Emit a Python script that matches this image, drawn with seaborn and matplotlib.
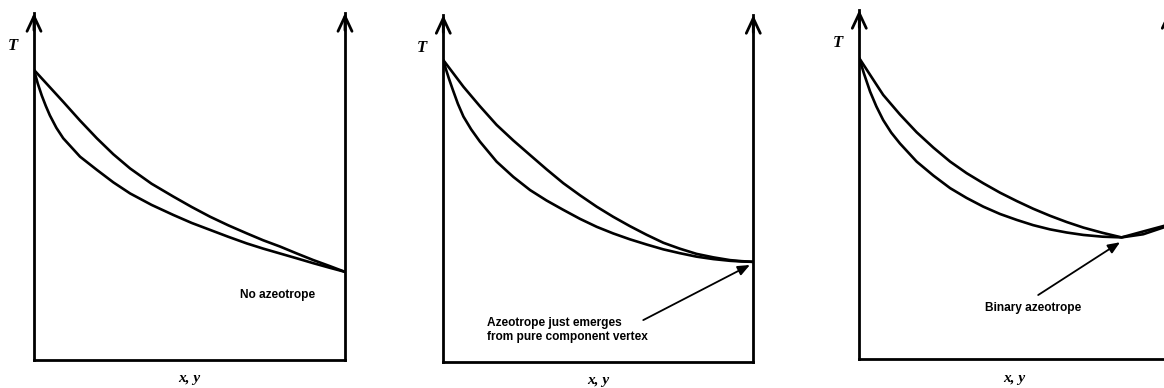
import matplotlib
matplotlib.use("Agg")
import matplotlib.pyplot as plt
import seaborn as sns
import pandas as pd

sns.set_theme(style="white")
plt.rcParams['font.family'] = ['Liberation Sans', 'DejaVu Sans']

# ---- data (x = composition, T = temperature, both scaled 0..1) ----
# Panel 1: no azeotrope
p1_dew_x = [0.0, 0.047, 0.094, 0.148, 0.202, 0.255, 0.309, 0.378, 0.448, 0.507, 0.566,
            0.625, 0.684, 0.737, 0.791, 0.845, 0.898, 0.950, 1.0]
p1_dew_T = [0.836, 0.790, 0.744, 0.690, 0.639, 0.593, 0.552, 0.508, 0.471, 0.441, 0.413,
            0.388, 0.365, 0.345, 0.327, 0.307, 0.288, 0.271, 0.254]
p1_bub_x = [0.0, 0.012, 0.025, 0.038, 0.051, 0.072, 0.094, 0.148, 0.202, 0.255, 0.309,
            0.378, 0.448, 0.507, 0.566, 0.625, 0.684, 0.737, 0.791, 0.845, 0.898, 0.950, 1.0]
p1_bub_T = [0.836, 0.797, 0.762, 0.732, 0.705, 0.669, 0.639, 0.586, 0.548, 0.512, 0.480,
            0.447, 0.418, 0.395, 0.375, 0.355, 0.336, 0.321, 0.307, 0.293, 0.279, 0.266, 0.254]

# Panel 2: azeotrope just emerges from pure component vertex
p2_dew_x = [0.0, 0.065, 0.118, 0.172, 0.226, 0.280, 0.333, 0.387, 0.441, 0.495, 0.548,
            0.602, 0.656, 0.710, 0.763, 0.817, 0.871, 0.925, 0.962, 1.0]
p2_dew_T = [0.870, 0.793, 0.737, 0.683, 0.638, 0.596, 0.555, 0.515, 0.480, 0.447, 0.418,
            0.391, 0.366, 0.343, 0.326, 0.311, 0.301, 0.293, 0.290, 0.288]
p2_bub_x = [0.0, 0.008, 0.018, 0.030, 0.047, 0.065, 0.090, 0.118, 0.172, 0.226, 0.280,
            0.333, 0.387, 0.441, 0.495, 0.548, 0.602, 0.656, 0.710, 0.763, 0.817, 0.871,
            0.925, 0.962, 1.0]
p2_bub_T = [0.870, 0.845, 0.817, 0.786, 0.744, 0.707, 0.670, 0.635, 0.577, 0.533, 0.495,
            0.465, 0.438, 0.412, 0.389, 0.370, 0.353, 0.338, 0.324, 0.313, 0.303, 0.296,
            0.291, 0.289, 0.288]

# Panel 3: binary azeotrope
p3_dew_x = [0.0, 0.038, 0.077, 0.131, 0.185, 0.239, 0.293, 0.346, 0.400, 0.454, 0.508,
            0.561, 0.615, 0.669, 0.723, 0.785, 0.846, 0.916, 0.983]
p3_dew_T = [0.862, 0.810, 0.757, 0.701, 0.650, 0.606, 0.566, 0.533, 0.504, 0.477, 0.453,
            0.431, 0.411, 0.393, 0.377, 0.362, 0.349, 0.366, 0.382]
p3_bub_x = [0.0, 0.015, 0.035, 0.055, 0.077, 0.103, 0.131, 0.185, 0.239, 0.293, 0.346,
            0.400, 0.454, 0.508, 0.561, 0.615, 0.669, 0.723, 0.785, 0.846, 0.916, 0.983]
p3_bub_T = [0.862, 0.818, 0.766, 0.724, 0.685, 0.649, 0.618, 0.566, 0.526, 0.490, 0.462,
            0.437, 0.416, 0.399, 0.384, 0.372, 0.363, 0.356, 0.351, 0.349, 0.358, 0.378]

notes = ["No azeotrope",
         "Azeotrope just emerges\nfrom pure component vertex",
         "Binary azeotrope"]
note_pos = [(0.662, 0.187), (0.140, 0.092), (0.405, 0.146)]
arrow_tail = [None, (0.645, 0.120), (0.577, 0.184)]
arrow_head = [None, (0.989, 0.279), (0.841, 0.335)]

panels = [
    (p1_dew_x, p1_dew_T, p1_bub_x, p1_bub_T),
    (p2_dew_x, p2_dew_T, p2_bub_x, p2_bub_T),
    (p3_dew_x, p3_dew_T, p3_bub_x, p3_bub_T),
]
axes_rects = [
    [0.02921, 0.07216, 0.26718, 0.89433],
    [0.38084, 0.06778, 0.26632, 0.89356],
    [0.73823, 0.07397, 0.26632, 0.90026],
]

fig = plt.figure(figsize=(11.64, 3.88), dpi=100)
fig.patch.set_facecolor("white")

serif = dict(family=['Liberation Serif', 'DejaVu Serif'], style='italic',
             weight='bold', color='black')

for i, (rect, (dx, dT, bx, bT)) in enumerate(zip(axes_rects, panels)):
    ax = fig.add_axes(rect)
    ax.set_facecolor("white")
    dfd = pd.DataFrame({"x": dx, "T": dT})
    dfb = pd.DataFrame({"x": bx, "T": bT})
    for df in (dfd, dfb):
        sns.lineplot(data=df, x="x", y="T", ax=ax, color="black", lw=1.9,
                     sort=False, estimator=None, solid_joinstyle="round",
                     solid_capstyle="round")
    ax.set_xlim(0, 1)
    ax.set_ylim(0, 1)
    ax.set_xticks([])
    ax.set_yticks([])
    ax.grid(False)
    for s in ["left", "right", "bottom"]:
        ax.spines[s].set_visible(True)
        ax.spines[s].set_color("black")
        ax.spines[s].set_linewidth(2.0)
        ax.spines[s].set_capstyle("projecting")
    ax.spines["top"].set_visible(False)
    # arrowheads on the vertical axes
    for xa in (0.0, 1.0):
        ax.annotate("", xy=(xa, 1.0), xytext=(xa, 0.95), xycoords="axes fraction",
                    textcoords="axes fraction", annotation_clip=False,
                    arrowprops=dict(arrowstyle="->,head_length=0.9,head_width=0.42",
                                    lw=2.0, color="black", shrinkA=0, shrinkB=0))
    ax.set_xlabel("x, y", fontsize=11, **serif)
    ax.xaxis.set_label_coords(0.5, -0.035)
    ax.set_ylabel("T", rotation=0, fontsize=12, **serif)
    ax.yaxis.set_label_coords(-0.068, 0.905)
    ax.yaxis.label.set_verticalalignment("center")
    ax.yaxis.label.set_horizontalalignment("center")

    tx, ty = note_pos[i]
    ax.text(tx, ty, notes[i], ha="left", va="center", fontsize=8.6,
            fontweight="bold", color="black", linespacing=1.2)
    if arrow_head[i] is not None:
        ax.annotate("", xy=arrow_head[i], xytext=arrow_tail[i],
                    arrowprops=dict(arrowstyle="-|>,head_length=0.6,head_width=0.25",
                                    lw=1.3, color="black", shrinkA=0, shrinkB=0),
                    annotation_clip=False)

fig.savefig("out.png", dpi=100, facecolor="white")
